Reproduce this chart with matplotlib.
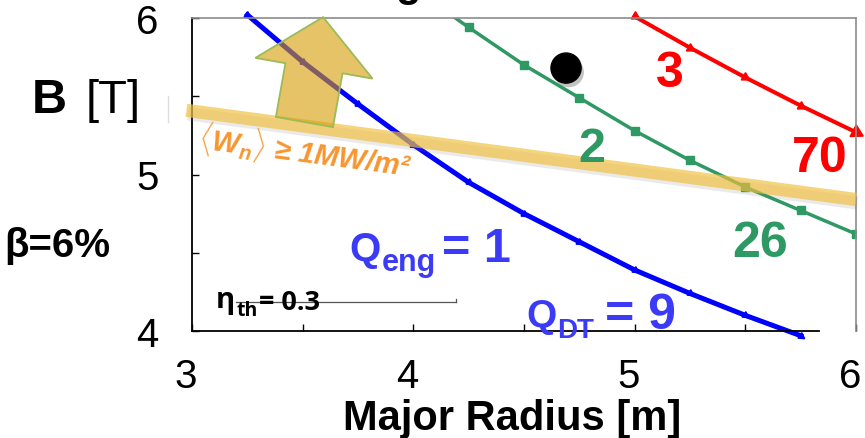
import numpy as np
import matplotlib
matplotlib.use("Agg")
import matplotlib.pyplot as plt
from matplotlib.patches import Polygon
from matplotlib.lines import Line2D
import matplotlib.patheffects as pe
import matplotlib.transforms as mtransforms

plt.rcParams["font.family"] = ["Liberation Sans", "DejaVu Sans"]
plt.rcParams["mathtext.fontset"] = "custom"
plt.rcParams["mathtext.rm"] = "Liberation Sans:bold"
plt.rcParams["mathtext.it"] = "Liberation Sans:italic:bold"
plt.rcParams["mathtext.bf"] = "Liberation Sans:bold"

# ---- data -------------------------------------------------------------
# Q_eng = 1 (Q_DT = 9) contour
r_q1 = [3.25, 3.5, 3.75, 4.0, 4.25, 4.5, 4.75, 5.0, 5.25, 5.5, 5.75]
b_q1 = [6.02, 5.72, 5.45, 5.19, 4.95, 4.75, 4.57, 4.39, 4.24, 4.10, 3.97]
# Q_eng = 2 (Q_DT = 26) contour
r_q2 = [4.0, 4.25, 4.5, 4.75, 5.0, 5.25, 5.5, 5.75, 6.0]
b_q2 = [6.19, 5.94, 5.70, 5.49, 5.28, 5.09, 4.92, 4.77, 4.62]
# Q_eng = 3 (Q_DT = 70) contour
r_q3 = [5.0, 5.25, 5.5, 5.75, 6.0]
b_q3 = [6.01, 5.81, 5.62, 5.44, 5.27]
# wall load limit <W_n> = 1 MW/m^2
r_wall = [2.975, 6.0]
b_wall = [5.41, 4.84]
# design point
r_design = [4.69]
b_design = [5.68]

x_ticks = [3, 3.5, 4, 4.5, 5, 5.5, 6]
x_ticklabels = ["3", "", "4", "", "5", "", "6"]
y_ticks = [4, 4.5, 5, 5.5, 6]
y_ticklabels = ["4", "", "5", "", "6"]

BLUE = "#0000FF"
BLUE_TXT = "#3B3BF7"
GREEN = "#2E9963"
RED = "#FF0000"
ORANGE = "#F7962F"

W, H = 865, 439
fig = plt.figure(figsize=(W / 100, H / 100), dpi=100)
ax = fig.add_axes([192 / W, 107 / H, 664 / W, 313 / H])
ax.set_xlim(3, 6)
ax.set_ylim(4, 6)


def fpos(px, py):
    """pixel position (from top-left) -> figure fraction"""
    return px / W, 1 - py / H


# ---- spines and ticks -------------------------------------------------
for side in ("top", "right"):
    ax.spines[side].set_color("#8c8c8c")
    ax.spines[side].set_linewidth(1.2)
for side in ("left", "bottom"):
    ax.spines[side].set_color("black")
    ax.spines[side].set_linewidth(1.3)
ax.spines["bottom"].set_bounds(3, 5.835)

ax.set_xticks(x_ticks)
ax.set_xticklabels(x_ticklabels)
ax.set_yticks(y_ticks)
ax.set_yticklabels(y_ticklabels)
ax.tick_params(axis="x", direction="in", length=5, width=1, labelsize=29, pad=19)
ax.tick_params(axis="y", direction="in", length=5, width=1, labelsize=29, pad=24)
shift_left = mtransforms.ScaledTranslation(-6 / 100, 0, fig.dpi_scale_trans)
for lbl in ax.get_xticklabels():
    lbl.set_transform(lbl.get_transform() + shift_left)

# ---- contour lines ----------------------------------------------------
ax.plot(r_q1, b_q1, color=BLUE, lw=3.6, marker=(3, 0, -125), ms=5.5,
        zorder=2, clip_on=False)
ax.plot(r_q2, b_q2, color=GREEN, lw=2.5, marker="s", ms=6, zorder=2)
ax.plot(r_q3, b_q3, color=RED, lw=2.9, marker=(3, 0, -120), ms=7,
        zorder=2, clip_on=False)
ax.plot(r_q3[-1:], b_q3[-1:], color=RED, lw=0, marker=(3, 0, -118), ms=11,
        zorder=2, clip_on=False)

# ---- wall-load band ---------------------------------------------------
ax.plot(r_wall, b_wall, color="#F0C040", alpha=0.68, lw=9.5,
        solid_capstyle="butt", zorder=3, clip_on=False,
        path_effects=[pe.SimpleLineShadow(offset=(1, -2.5), shadow_color="#777777", alpha=0.15),
                      pe.Normal()])

# ---- direction arrow (perpendicular to the band) ----------------------
arrow_base = (3.508, 5.335)
arrow_tip = (3.592, 6.006)
fig.canvas.draw()
b = ax.transData.transform(arrow_base)
t = ax.transData.transform(arrow_tip)
d = t - b
L = np.hypot(*d)
u = d / L
n = np.array([-u[1], u[0]])
shaft_w, head_w, head_len = 58, 119, 52
hb = b + u * (L - head_len)
pts_disp = np.array([
    b + n * shaft_w / 2,
    hb + n * shaft_w / 2,
    hb + n * head_w / 2,
    t,
    hb - n * head_w / 2,
    hb - n * shaft_w / 2,
    b - n * shaft_w / 2,
])
pts = ax.transData.inverted().transform(pts_disp)
arrow = Polygon(pts, closed=True, facecolor="#D59B00", alpha=0.6,
                edgecolor="none", zorder=4, clip_on=False)
ax.add_patch(arrow)
arrow_edge = Polygon(pts, closed=True, facecolor="none", edgecolor="#9BBB59",
                     lw=1.3, zorder=4.1, clip_on=False)
ax.add_patch(arrow_edge)

# ---- design point -----------------------------------------------------
ax.scatter(r_design, b_design, s=470, color="black", zorder=5, clip_on=False,
           path_effects=[pe.SimplePatchShadow(offset=(2, -3), shadow_rgbFace="#555555", alpha=0.35),
                         pe.Normal()])

# ---- contour labels ---------------------------------------------------
fig.text(*fpos(670, 87), "3", color=RED, fontsize=36, fontweight="bold",
         ha="center", va="baseline")
fig.text(*fpos(820, 172), "70", color=RED, fontsize=36, fontweight="bold",
         ha="center", va="baseline")
fig.text(*fpos(592, 162), "2", color=GREEN, fontsize=35, fontweight="bold",
         ha="center", va="baseline", zorder=0.5)
fig.text(*fpos(760, 257), "26", color=GREEN, fontsize=36, fontweight="bold",
         ha="center", va="baseline")

# Q_eng = 1
fig.text(*fpos(349, 261), "Q", color=BLUE_TXT, fontsize=29, fontweight="bold",
         ha="left", va="baseline")
fig.text(*fpos(382, 271), "eng", color=BLUE_TXT, fontsize=22, fontweight="bold",
         ha="left", va="baseline")
fig.text(*fpos(442, 262), "= 1", color=BLUE_TXT, fontsize=35, fontweight="bold",
         ha="left", va="baseline")
# Q_DT = 9
fig.text(*fpos(526, 327), "Q", color=BLUE_TXT, fontsize=28, fontweight="bold",
         ha="left", va="baseline")
fig.text(*fpos(557, 338), "DT", color=BLUE_TXT, fontsize=20, fontweight="bold",
         ha="left", va="baseline")
fig.text(*fpos(605, 329), "= 9", color=BLUE_TXT, fontsize=36, fontweight="bold",
         ha="left", va="baseline")

# wall-load label along the band
ax.text(0.0, 0.0, r"$\langle W_n\rangle$ ≥ 1MW/m²",
        transform=fig.transFigure, color=ORANGE, fontsize=21,
        fontweight="bold", fontstyle="italic",
        rotation=-7.5, rotation_mode="anchor", ha="center", va="center",
        zorder=2.5).set_position(fpos(305, 152))

# thermal efficiency note with its rule
fig.add_artist(Line2D([236 / W, 456 / W], [1 - 303 / H, 1 - 303 / H],
                      color="#555555", lw=0.9))
fig.add_artist(Line2D([456 / W, 456 / W], [1 - 303 / H, 1 - 300 / H],
                      color="#555555", lw=0.9))
fig.text(*fpos(216, 308), "η", fontsize=21, fontweight="bold",
         family=["Open Sans", "DejaVu Sans"], ha="left", va="baseline")
fig.text(*fpos(237, 316), "th", fontsize=14, fontweight="bold",
         family=["Open Sans", "DejaVu Sans"], ha="left", va="baseline")
fig.text(*fpos(259, 310), "= 0.3", fontsize=19.5, fontweight="bold",
         family=["Open Sans", "DejaVu Sans"], ha="left", va="baseline")

# ---- axis titles and side notes --------------------------------------
fig.text(*fpos(32, 113), "B", fontsize=35, fontweight="bold",
         ha="left", va="baseline")
fig.text(*fpos(86, 113), "[T]", fontsize=34, ha="left", va="baseline")
fig.text(*fpos(4, 257), "β=6%", fontsize=29, fontweight="bold",
         ha="left", va="baseline")
fig.text(*fpos(512, 430), "Major Radius [m]", fontsize=30, fontweight="bold",
         ha="center", va="baseline")

# faint mark at left of the band
fig.add_artist(Line2D([168 / W, 168 / W], [1 - 97 / H, 1 - 123 / H],
                      color="#dddddd", lw=1))
# descender of the heading above the plot
fig.text(*fpos(408, -4), "g", fontsize=30, fontweight="bold",
         ha="center", va="baseline")

fig.savefig("out.png", dpi=100)
